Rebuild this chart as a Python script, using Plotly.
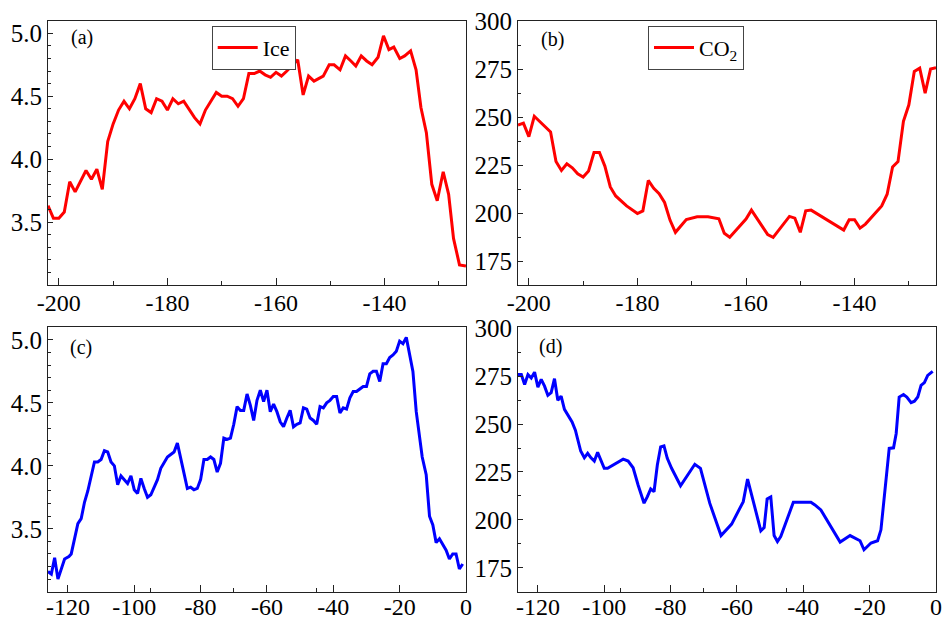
import plotly.graph_objects as go

# ---------------- data ----------------
# (a) Ice, top-left
ice_a_x = [-202, -201, -200, -199, -198, -197, -195, -194, -193, -192, -191, -190, -189, -188, -187,
           -186, -185, -184, -183, -182, -181, -180, -179, -178, -177, -175, -174, -173, -172, -171,
           -170, -169, -168, -167, -166, -165, -164, -163, -162, -161, -160, -159, -158, -156, -155,
           -154, -153, -151.3, -150.2, -149.3, -148.2, -147.2, -146.2, -145.3, -144.3, -143.3, -142.3,
           -141.2, -140.2, -139.2, -138.3, -137.2, -136.3, -135.2, -134.2, -133.3, -132.3, -131.3,
           -130.3, -129.2, -128.2, -127.3, -126.2, -125]
ice_a_y = [3.63, 3.53, 3.53, 3.58, 3.82, 3.74, 3.91, 3.84, 3.92, 3.76, 4.14, 4.28, 4.39, 4.46, 4.40,
           4.48, 4.60, 4.40, 4.37, 4.48, 4.46, 4.39, 4.48, 4.44, 4.46, 4.33, 4.28, 4.39, 4.46, 4.53,
           4.50, 4.50, 4.48, 4.42, 4.48, 4.68, 4.68, 4.70, 4.67, 4.65, 4.69, 4.66, 4.70, 4.79, 4.51,
           4.66, 4.62, 4.66, 4.75, 4.75, 4.71, 4.82, 4.78, 4.74, 4.82, 4.78, 4.75,
           4.81, 4.98, 4.87, 4.89, 4.80, 4.82, 4.86, 4.71, 4.41, 4.21, 3.80,
           3.67, 3.90, 3.72, 3.37, 3.16, 3.15]

# (b) CO2, top-right
co2_b_x = [-202, -201, -200, -199, -196, -195, -194, -193, -192, -191, -190, -189, -188, -187, -186,
           -185, -184, -182, -180, -179, -178, -177, -176, -175, -174, -173, -171, -169, -167, -165,
           -164, -163, -161.8, -160, -159, -156, -155, -152, -151, -150, -149, -148, -142, -141, -140,
           -139, -138, -135, -134, -133, -132, -131, -130, -129, -128, -127, -126, -125]
co2_b_y = [246, 247, 240, 250.6, 242.4, 227, 222.3, 225.8, 223.7, 220.6, 218.9, 222, 231.7, 231.7, 224.6,
           213.7, 209, 203.8, 199.8, 201.2, 217.1, 213, 210.2, 205.6, 196.4, 190, 196.7, 198.1, 198.1, 197.1,
           189.5, 187.4, 191.2, 196.9, 201.6, 188.8, 187.4, 198.3, 197.4, 190, 201.2, 201.6, 191.2, 196.6, 196.6,
           192.2, 194.3, 203.8, 209.9, 224.1, 226.9, 248, 256.6, 274, 275.7, 262.7, 275.3, 276]

# (c) Ice, bottom-left
ice_c_x = [-126, -125, -124, -123, -121, -119.7, -119, -118, -117, -116, -115, -114, -113, -112, -111,
           -110, -109, -108, -107, -106, -105, -104, -103, -102, -101, -100, -99, -98, -97, -96, -95,
           -94, -93, -92, -91, -90, -89, -88, -87, -86, -85, -84, -83, -82, -81, -80, -79, -78, -77,
           -76, -75, -74, -73, -72, -71, -70, -69, -68, -67, -66, -65, -64, -63, -62, -61, -60, -59,
           -58, -57, -56, -55, -54, -53, -52, -51, -50, -49, -48, -47, -46, -45, -44, -43, -42, -41,
           -40, -39, -38, -37, -36, -35, -34, -33, -32, -31, -30, -29, -28, -27, -26, -25, -24, -23,
           -22, -21, -20, -19, -18, -17, -16, -15, -13.2, -12, -11, -10, -9, -8, -7, -6, -5, -4, -3,
           -2, -1]
ice_c_y = [3.16, 3.14, 3.27, 3.10, 3.26, 3.28, 3.30, 3.43, 3.54, 3.58, 3.71, 3.80, 3.92, 4.03, 4.03,
           4.05, 4.12, 4.11, 4.03, 4.00, 3.85, 3.92, 3.89, 3.86, 3.92, 3.81, 3.78, 3.90, 3.82, 3.75, 3.77,
           3.83, 3.89, 3.98, 4.03, 4.07, 4.09, 4.11, 4.18, 4.07, 3.94, 3.82, 3.83, 3.81, 3.82, 3.89, 4.05,
           4.05, 4.07, 4.05, 3.95, 4.02, 4.22, 4.21, 4.22, 4.33, 4.47, 4.44, 4.44, 4.57, 4.48, 4.36, 4.52,
           4.60, 4.51, 4.60, 4.43, 4.49, 4.43, 4.35, 4.31, 4.38, 4.44, 4.31, 4.33, 4.34, 4.46, 4.45, 4.38,
           4.36, 4.33, 4.47, 4.46, 4.50, 4.52, 4.55, 4.55, 4.42, 4.46, 4.45, 4.54, 4.59, 4.59, 4.61, 4.63,
           4.63, 4.73, 4.75, 4.75, 4.67, 4.81, 4.81, 4.86, 4.88, 4.91, 4.99, 4.97, 5.02, 4.89, 4.75, 4.43,
           4.07, 3.93, 3.60, 3.53, 3.39, 3.42, 3.37, 3.33, 3.26, 3.30, 3.30, 3.18, 3.22]

# (d) CO2, bottom-right
co2_d_x = [-126, -125, -124, -123, -122, -121, -120, -119, -118, -117, -116, -115, -114, -113, -112,
           -110.7, -109.7, -108.7, -107.9, -107.1, -106, -105, -104, -103, -102, -101, -100, -99,
           -94.3, -92.8, -91.3, -89.8, -88, -87, -86, -85, -84, -83, -82, -81, -79.7, -77, -72.7,
           -71, -68.2, -64.8, -61.6, -58.1, -56.8, -54.8, -52.8, -51.8, -50.9, -49.8, -48.8, -47.8,
           -46.8, -43, -37.7, -36.5, -34.7, -28.9, -25.9, -22.9, -21.7, -19.6, -17.6, -16.6, -15.5,
           -14.1, -12.8, -12, -11.1, -9.8, -8.8, -7.5, -6.5, -5.5, -4.5, -3.5, -2.5, -1]
co2_d_y = [275.8, 275.8, 270.6, 275.8, 274, 277.1, 269.3, 273.3, 269.8, 265, 266.4, 273.7, 262.4, 264.6,
           257.7, 254.2, 251.1, 246.8, 241.6, 235.9, 232.4, 234.7, 232.4, 230.7, 235.2, 231.2, 226.9,
           226.9, 231.7, 230.7, 227.2, 218.2, 208.7, 212.1, 216.1, 214.7, 228.6, 238.1, 238.6, 232.1,
           226.9, 217.8, 229, 226.9, 208.7, 191.8, 197.8, 209.5, 221.3, 207.8, 194.3, 196, 210.9, 212,
           191.8, 188.7, 191.3, 209.2, 209.2, 207.8, 205.2, 188.4, 191.8, 189.1, 184.4, 187.9, 189.1,
           194.8, 214.7, 237.3, 237.6, 245.1, 264.1, 265.4, 264.1, 261.2, 261.9, 264.1, 270.2, 271.6,
           275.4, 277.5]

# tick labels
top_xticks = [-200, -180, -160, -140]
bot_xticks = [-120, -100, -80, -60, -40, -20, 0]
ice_yticks = [3.5, 4.0, 4.5, 5.0]
co2_yticks = [175, 200, 225, 250, 275, 300]
panel_labels = ["(a)", "(b)", "(c)", "(d)"]
legend_names = ["Ice", "CO<sub>2</sub>"]

# ---------------- figure ----------------
W, H = 943, 619
FONT = "Liberation Serif, Times New Roman, serif"
RED = "#ff0000"
BLUE = "#0000ff"
AX = "#222222"

fig = go.Figure()

fig.add_trace(go.Scatter(x=ice_a_x, y=ice_a_y, mode="lines", name=legend_names[0],
                         line=dict(color=RED, width=3), xaxis="x", yaxis="y", legend="legend"))
fig.add_trace(go.Scatter(x=co2_b_x, y=co2_b_y, mode="lines", name=legend_names[1],
                         line=dict(color=RED, width=3), xaxis="x2", yaxis="y2", legend="legend2"))
fig.add_trace(go.Scatter(x=ice_c_x, y=ice_c_y, mode="lines", showlegend=False,
                         line=dict(color=BLUE, width=3), xaxis="x3", yaxis="y3"))
fig.add_trace(go.Scatter(x=co2_d_x, y=co2_d_y, mode="lines", showlegend=False,
                         line=dict(color=BLUE, width=3), xaxis="x4", yaxis="y4"))

xl = [48 / W, 466 / W]
xr = [518 / W, 936 / W]
yt = [1 - 285 / H, 1 - 20.7 / H]
yb = [1 - 591.7 / H, 1 - 327.3 / H]


def xax(domain, anchor, rng, vals, minor_dtick, minor_tick0, standoff):
    return dict(domain=domain, anchor=anchor, range=rng, showgrid=False, zeroline=False,
                automargin=False, ticklabelstandoff=standoff,
                showline=True, linecolor=AX, linewidth=1, mirror=True,
                ticks="inside", ticklen=7, tickwidth=1, tickcolor=AX,
                tickmode="array", tickvals=vals, ticktext=[str(v) for v in vals],
                tickfont=dict(family=FONT, size=24, color="black"),
                minor=dict(ticks="inside", ticklen=4, tickcolor=AX, dtick=minor_dtick,
                           tick0=minor_tick0, showgrid=False))


def yax(domain, anchor, rng, vals, fmt, minor_dtick, minor_tick0):
    return dict(domain=domain, anchor=anchor, range=rng, showgrid=False, zeroline=False,
                automargin=False,
                showline=True, linecolor=AX, linewidth=1, mirror=True,
                ticks="inside", ticklen=5, tickwidth=1, tickcolor=AX,
                tickmode="array", tickvals=vals, ticktext=[fmt.format(v) for v in vals],
                tickfont=dict(family=FONT, size=25, color="black"),
                minor=dict(ticks="inside", ticklen=3, tickcolor=AX, dtick=minor_dtick,
                           tick0=minor_tick0, showgrid=False))


fig.update_layout(
    width=W, height=H,
    margin=dict(l=0, r=0, t=0, b=0, autoexpand=False),
    paper_bgcolor="white", plot_bgcolor="white",
    xaxis=xax(xl, "y", [-202, -125], top_xticks, 10, -200, -4),
    yaxis=yax(yt, "x", [3.0, 5.1], ice_yticks, "{:.1f}", 0.1, 3.0),
    xaxis2=xax(xr, "y2", [-202, -125], top_xticks, 10, -200, -4),
    yaxis2=yax(yt, "x2", [162.5, 300.5], co2_yticks, "{:d}", 12.5, 175),
    xaxis3=xax(xl, "y3", [-126, 0], bot_xticks, 25, -120, -7),
    yaxis3=yax(yb, "x3", [3.0, 5.1], ice_yticks, "{:.1f}", 0.1, 3.0),
    xaxis4=xax(xr, "y4", [-126, 0], bot_xticks, 25, -120, -7),
    yaxis4=yax(yb, "x4", [162.5, 300.5], co2_yticks, "{:d}", 12.5, 175),
    legend=dict(x=211.7 / W, y=1 - 25.7 / H, xanchor="left", yanchor="top",
                bgcolor="white", bordercolor="#444444", borderwidth=1,
                font=dict(family=FONT, size=22, color="black"), itemwidth=40,
                tracegroupgap=0),
    legend2=dict(x=648 / W, y=1 - 25.7 / H, xanchor="left", yanchor="top",
                 bgcolor="white", bordercolor="#444444", borderwidth=1,
                 font=dict(family=FONT, size=22, color="black"), itemwidth=40,
                 tracegroupgap=0),
    showlegend=True,
)

label_pos = [(82, 37), (552, 39), (80.5, 347.5), (550.7, 346)]
for txt, (px, py) in zip(panel_labels, label_pos):
    fig.add_annotation(x=px / W, y=1 - py / H, xref="paper", yref="paper", text=txt,
                       showarrow=False, xanchor="center", yanchor="middle",
                       font=dict(family=FONT, size=20, color="black"))

fig.write_html("out.html")
